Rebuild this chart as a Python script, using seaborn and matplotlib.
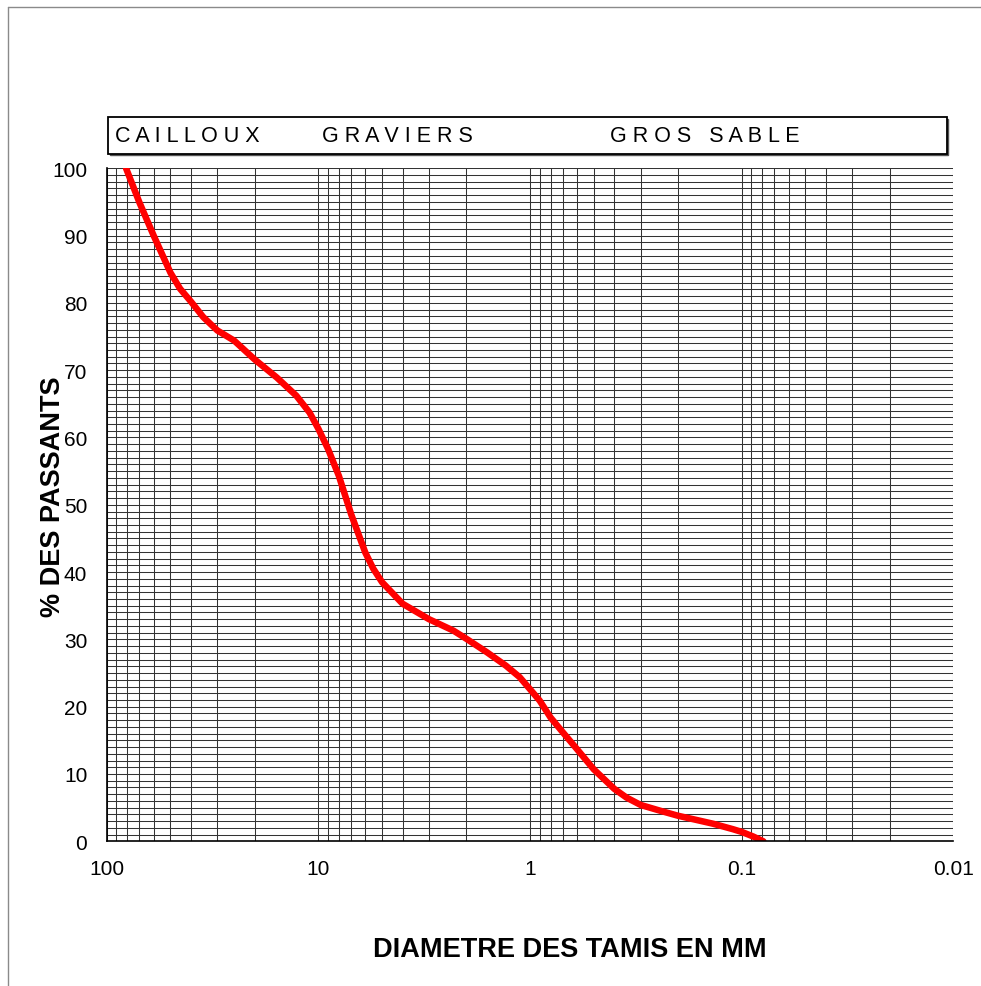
import numpy as np
import pandas as pd
import matplotlib
matplotlib.use("Agg")
import matplotlib.pyplot as plt
from matplotlib.patches import Rectangle
from matplotlib.lines import Line2D
import seaborn as sns

# ---- data ----
diametre_mm = [81, 70, 60, 50, 45, 40, 35, 30, 25, 20, 15.7, 12.7, 11, 10, 9, 8,
               7, 6.3, 6, 5.5, 5, 4, 3, 2.3, 2, 1.6, 1.3, 1.12, 1, 0.9, 0.8,
               0.7, 0.6, 0.5, 0.4, 0.35, 0.3, 0.24, 0.2, 0.136, 0.11, 0.1,
               0.088, 0.079]
passants = [100, 94.9, 90.0, 84.5, 82.1, 80.2, 77.9, 75.9, 74.4, 71.6, 68.9, 66.2,
            63.7, 61.3, 58.3, 54.3, 48.6, 44.7, 42.9, 40.5, 38.5, 35.3, 33.0,
            31.3, 30.1, 28.1, 26.1, 24.4, 22.6, 20.9, 18.4, 16.2, 13.7, 10.7,
            7.8, 6.5, 5.4, 4.5, 3.8, 2.6, 1.8, 1.4, 0.7, 0.0]
x_ticks = [100, 10, 1, 0.1, 0.01]
x_ticklabels = ["100", "10", "1", "0.1", "0.01"]
y_ticks = list(range(0, 101, 10))
bandeau = ["C A I L L O U X", "G R A V I E R S", "G R O S   S A B L E"]

df = pd.DataFrame({"d": diametre_mm, "p": passants})

sns.set_style("white")
plt.rcParams["font.family"] = ["Liberation Sans", "DejaVu Sans"]
plt.rcParams["text.color"] = "black"

W, H = 981, 987
fig = plt.figure(figsize=(W / 100, H / 100), dpi=100)

def fx(px):
    return px / W

def fy(py):
    return 1 - py / H

left, right, top, bottom = 106.7, 953.3, 169.3, 842.3
ax = fig.add_axes([fx(left), fy(bottom), fx(right - left), (bottom - top) / H])

sns.lineplot(data=df, x="d", y="p", ax=ax, color="#ff0000", linewidth=4.7,
             sort=False, estimator=None, solid_capstyle="round",
             solid_joinstyle="round", zorder=5)

ax.set_xscale("log")
ax.set_xlim(100, 0.01)
ax.set_ylim(0, 100)

ax.set_xticks(x_ticks)
ax.set_xticklabels(x_ticklabels)
minor_x = [m * 10.0 ** k for k in range(-2, 2) for m in range(2, 10)]
ax.set_xticks(minor_x, minor=True)
ax.set_yticks(y_ticks)
ax.set_yticks(range(0, 101, 1), minor=True)

ax.grid(True, which="both", axis="both", color="#333333", linewidth=0.75, zorder=0)
ax.set_axisbelow(True)

ax.tick_params(axis="both", which="major", direction="out", length=4.5, width=0.8,
               color="#555555", labelsize=15, labelcolor="black")
ax.tick_params(axis="x", which="major", pad=8.5)
ax.tick_params(axis="y", which="major", pad=9.5)
ax.tick_params(axis="both", which="minor", length=0)

for s in ["top", "right"]:
    ax.spines[s].set_visible(False)
for s in ["left", "bottom"]:
    ax.spines[s].set_visible(True)
    ax.spines[s].set_color("black")
    ax.spines[s].set_linewidth(1.2)
    ax.spines[s].set_zorder(6)

ax.set_xlabel("")
ax.set_ylabel("")

# axis titles
fig.text(fx(570), fy(949.7), "DIAMETRE DES TAMIS EN MM", fontsize=19.5,
         fontweight="bold", ha="center", va="center", color="black")
fig.text(fx(53), fy(497), "% DES PASSANTS", fontsize=19.5, fontweight="bold",
         ha="center", va="center", rotation=90, zorder=10, color="black")

# banner box
bx0, by0, bx1, by1 = 108.3, 118.3, 946.7, 155
fig.patches.append(Rectangle((fx(bx0) + 0.0015, fy(by1) - 0.0015), fx(bx1 - bx0), (by1 - by0) / H,
                             transform=fig.transFigure, facecolor="#555555",
                             edgecolor="#555555", lw=1.0, zorder=1))
fig.patches.append(Rectangle((fx(bx0), fy(by1)), fx(bx1 - bx0), (by1 - by0) / H,
                             transform=fig.transFigure, facecolor="white",
                             edgecolor="black", lw=1.3, zorder=2))
for txt, xs in zip(bandeau, [115, 321.7, 610]):
    fig.text(fx(xs), fy(137), txt, fontsize=15.5, ha="left", va="center",
             zorder=3, color="black")

# outer chart-area border (top and left visible)
fig.add_artist(Line2D([fx(8), 1.0], [fy(8), fy(8)], transform=fig.transFigure,
                      color="#8a8a8a", lw=1.0))
fig.add_artist(Line2D([fx(8), fx(8)], [fy(8), 0.0], transform=fig.transFigure,
                      color="#8a8a8a", lw=1.0))

fig.savefig("out.png", dpi=100, facecolor="white")
